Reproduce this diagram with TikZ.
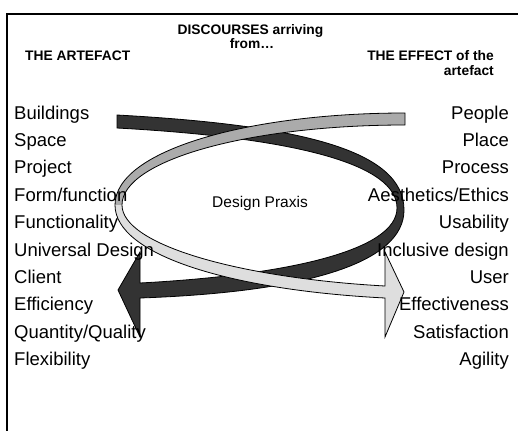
\documentclass[tikz,border=0pt]{standalone}
\usepackage{fontspec}
\setmainfont{Liberation Sans}
\begin{document}
\begin{tikzpicture}[x=1pt,y=-1pt,
  itemtext/.style={inner sep=0pt,font=\fontsize{18.5}{20}\selectfont},
  headtext/.style={inner sep=0pt,font=\fontsize{13.8}{14}\selectfont\bfseries},
  praxis/.style={inner sep=0pt,font=\fontsize{15.5}{17}\selectfont},
  band/.style={draw=black,line width=0.8pt,line join=miter}]
\useasboundingbox (0,0) rectangle (518,431);

% frame: top and left rules only
\draw[line width=2.6pt] (518,14) -- (7,14) -- (7,431);

% dark ribbon: artefact side, returning as the left arrow
\fill[black!80] (117,115) .. controls (300,125) and (404,150) .. (404,210)
  .. controls (404,262) and (310,292) .. (140,298)
  -- (140,337) -- (118,290) -- (140,252) -- (140,283)
  .. controls (290,275) and (397,250) .. (397,208)
  .. controls (397,165) and (300,138) .. (117,128) -- cycle;
\draw[band] (117,115) .. controls (300,125) and (404,150) .. (404,210)
  .. controls (404,262) and (310,292) .. (140,298)
  -- (140,337) -- (118,290) -- (140,252) -- (140,283)
  .. controls (290,275) and (397,250) .. (397,208)
  .. controls (397,165) and (300,138) .. (117,128) -- cycle;

% light ribbon: upper half
\fill[black!33] (405,113) .. controls (250,113) and (115,150) .. (115,205)
  -- (122,205) .. controls (122,160) and (250,125) .. (405,125) -- cycle;
% light ribbon: lower half with the right arrow
\fill[black!13] (115,205) .. controls (115,255) and (230,290) .. (385,298)
  -- (385,337) -- (404,292) -- (385,252) -- (385,286)
  .. controls (240,278) and (122,245) .. (122,205) -- cycle;
\draw[band] (405,113) .. controls (250,113) and (115,150) .. (115,205)
  .. controls (115,255) and (230,290) .. (385,298)
  -- (385,337) -- (404,292) -- (385,252) -- (385,286)
  .. controls (240,278) and (122,245) .. (122,205)
  .. controls (122,160) and (250,125) .. (405,125) -- cycle;

% headings
\node[headtext,anchor=base] (disc1) at (250.5,34) {DISCOURSES arriving};
\node[headtext,anchor=base] (disc2) at (252,48) {from…};
\node[headtext,anchor=base west] (art) at (25,60) {THE ARTEFACT};
\node[headtext,anchor=base east] (eff1) at (494,60) {THE EFFECT of the};
\node[headtext,anchor=base east] (eff2) at (494,75) {artefact};

% centre label
\node[praxis] (dp) at (260,203) {Design Praxis};

% left column
\foreach \t [count=\i] in {Buildings,Space,Project,Form/function,Functionality,
  Universal Design,Client,Efficiency,Quantity/Quality,Flexibility}
  \node[itemtext,anchor=base west] (l\i) at (14,{119+27.4*(\i-1)}) {\t};

% right column
\foreach \t [count=\i] in {People,Place,Process,Aesthetics/Ethics,Usability,
  Inclusive design,User,Effectiveness,Satisfaction,Agility}
  \node[itemtext,anchor=base east] (r\i) at (509,{119+27.4*(\i-1)}) {\t};
\end{tikzpicture}
\end{document}
